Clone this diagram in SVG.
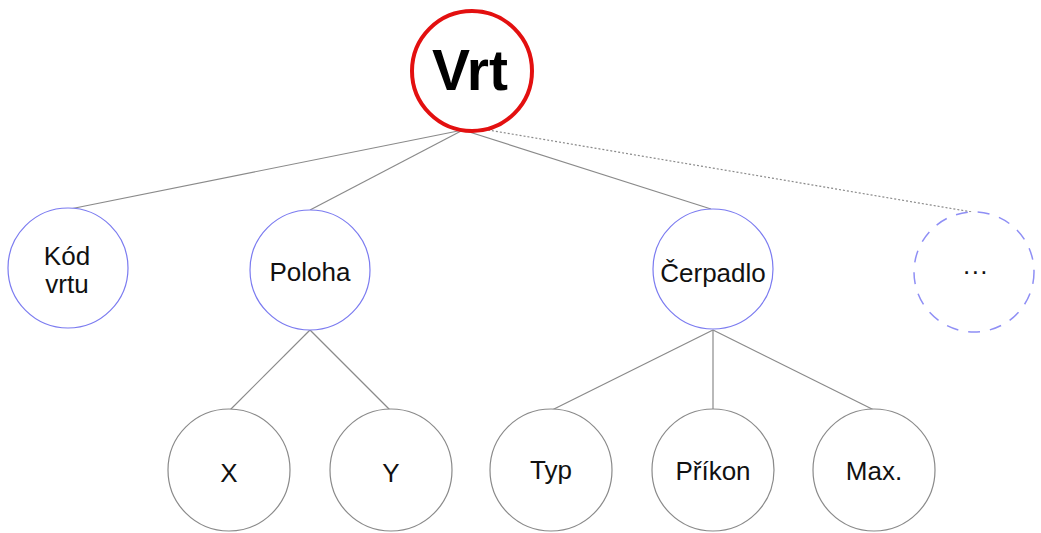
<svg xmlns="http://www.w3.org/2000/svg" width="1041" height="533" viewBox="0 0 1041 533">
<style>
.t{font-family:"Liberation Sans",Arial,sans-serif;font-size:26px;fill:#111;text-anchor:middle}
.l2{fill:#fff;stroke:#7b7bf0;stroke-width:1.2}
.l3{fill:#fff;stroke:#8a8a8a;stroke-width:1.2}
.c{stroke:#8a8a8a;stroke-width:1.2;fill:none}
</style>
<rect width="1041" height="533" fill="#fff"/>
<g id="connectors">
<line class="c" x1="463" y1="130" x2="70" y2="209"/>
<line class="c" x1="463" y1="130" x2="310" y2="210"/>
<line class="c" x1="463" y1="130" x2="711" y2="209"/>
<line class="c" x1="488" y1="130" x2="972" y2="212" stroke-dasharray="2 2"/>
<line class="c" x1="310" y1="330" x2="230" y2="410"/>
<line class="c" x1="310" y1="330" x2="390" y2="410"/>
<line class="c" x1="713" y1="330" x2="552" y2="410"/>
<line class="c" x1="713" y1="330" x2="713" y2="410"/>
<line class="c" x1="713" y1="330" x2="874" y2="410"/>
</g>
<g id="vrt">
<circle cx="472" cy="71" r="60" fill="#fff" stroke="#e31010" stroke-width="4"/>
<text x="470" y="90" class="t" style="font-size:57px;font-weight:bold;fill:#000">Vrt</text>
</g>
<g id="kod">
<circle class="l2" cx="68" cy="268" r="60"/>
<text x="67" y="265" class="t">Kód</text>
<text x="67" y="293" class="t">vrtu</text>
</g>
<g id="poloha">
<circle class="l2" cx="310" cy="270" r="60"/>
<text x="310" y="281" class="t">Poloha</text>
</g>
<g id="cerpadlo">
<circle class="l2" cx="713" cy="269" r="60"/>
<text x="713" y="282" class="t">Čerpadlo</text>
</g>
<g id="more">
<circle cx="974" cy="272" r="60" fill="#fff" stroke="#8f8ff5" stroke-width="1.5" stroke-dasharray="12 10"/>
<text x="976" y="274" class="t" style="letter-spacing:1.5px">...</text>
</g>
<g id="x">
<circle class="l3" cx="229" cy="470" r="61"/>
<text x="229" y="482" class="t">X</text>
</g>
<g id="y">
<circle class="l3" cx="391" cy="470" r="61"/>
<text x="391" y="482" class="t">Y</text>
</g>
<g id="typ">
<circle class="l3" cx="551" cy="470" r="61"/>
<text x="551" y="479" class="t">Typ</text>
</g>
<g id="prikon">
<circle class="l3" cx="713" cy="470" r="61"/>
<text x="713" y="480" class="t">Příkon</text>
</g>
<g id="max">
<circle class="l3" cx="874" cy="470" r="61"/>
<text x="874" y="480" class="t">Max.</text>
</g>
</svg>
